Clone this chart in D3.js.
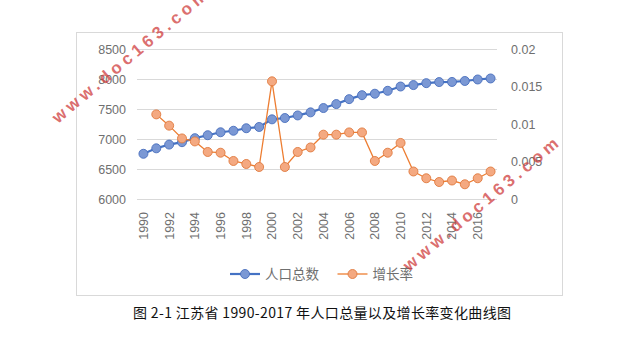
<!DOCTYPE html>
<html><head><meta charset="utf-8">
<script src="https://cdn.jsdelivr.net/npm/d3@7"></script>
<style>html,body{margin:0;padding:0;background:#fff;}svg{display:block;}</style>
</head><body>
<script>
const years = [1990,1991,1992,1993,1994,1995,1996,1997,1998,1999,2000,2001,2002,2003,2004,2005,2006,2007,2008,2009,2010,2011,2012,2013,2014,2015,2016,2017];
const population = [6757,6848,6910,6950,7017,7066,7115,7140,7182,7203,7330,7352,7395,7446,7518,7584,7666,7732,7756,7805,7876,7900,7932,7950,7952,7968,7993,8010];
const growthRate = [null,0.0113,0.0098,0.0081,0.0077,0.0063,0.0062,0.0051,0.0047,0.0043,0.0157,0.0043,0.0063,0.0069,0.0086,0.0086,0.0089,0.0089,0.0051,0.0062,0.0075,0.0037,0.0028,0.0023,0.0025,0.0020,0.0028,0.0037];
const leftTicks = [6000,6500,7000,7500,8000,8500];
const rightTicks = [0,0.005,0.01,0.015,0.02];
const xTickYears = [1990,1992,1994,1996,1998,2000,2002,2004,2006,2008,2010,2012,2014,2016];
const seriesNames = ["人口总数","增长率"];
const caption = "图 2-1 江苏省 1990-2017 年人口总量以及增长率变化曲线图";
const watermark = "www.doc163.com";

const W = 631, H = 342;
const svg = d3.select("body").append("svg").attr("width", W).attr("height", H);
const font = "'Liberation Sans', Arial, sans-serif";
const cjk = "'Noto Sans CJK SC', sans-serif";

// chart border
svg.append("rect").attr("x", 76.5).attr("y", 32.5).attr("width", 486).attr("height", 263)
  .attr("fill", "none").attr("stroke", "#d9d9d9").attr("stroke-width", 1);

const x = d3.scaleBand().domain(years).range([137, 497]);
const yL = d3.scaleLinear().domain([6000, 8500]).range([199.3, 49]);
const yR = d3.scaleLinear().domain([0, 0.02]).range([199.3, 49]);
const cx = d => x(d) + x.bandwidth() / 2;

// gridlines
const grid = svg.append("g");
grid.selectAll("line").data(leftTicks).join("line")
  .attr("x1", 137).attr("x2", 497)
  .attr("y1", d => Math.round(yL(d)) + 0.5).attr("y2", d => Math.round(yL(d)) + 0.5)
  .attr("stroke", "#d9d9d9").attr("stroke-width", 1);

// left axis
const axL = d3.axisLeft(yL).tickValues(leftTicks).tickSize(0).tickPadding(0).tickFormat(d3.format("d"));
const gL = svg.append("g").attr("transform", "translate(126,0)").call(axL);
gL.select(".domain").remove();
gL.selectAll("text").attr("font-family", font).attr("font-size", 12.5).attr("fill", "#6f6f6f");

// right axis
const axR = d3.axisRight(yR).tickValues(rightTicks).tickSize(0).tickPadding(0).tickFormat(d => d === 0 ? "0" : String(+d.toFixed(3)));
const gR = svg.append("g").attr("transform", "translate(511,0)").call(axR);
gR.select(".domain").remove();
gR.selectAll("text").attr("font-family", font).attr("font-size", 12.5).attr("fill", "#6f6f6f");

// x axis labels (rotated)
const axX = d3.axisBottom(x).tickValues(xTickYears).tickSize(0).tickPadding(0);
const gX = svg.append("g").attr("transform", "translate(0,212)").call(axX);
gX.select(".domain").remove();
gX.selectAll("text").attr("font-family", font).attr("font-size", 12.5).attr("fill", "#6f6f6f")
  .attr("transform", "rotate(-90)").attr("text-anchor", "end").attr("dy", "0.35em").attr("x", 0).attr("y", 0);

// population line
const popData = years.map((yr, i) => ({yr, v: population[i]}));
svg.append("path").datum(popData)
  .attr("d", d3.line().x(d => cx(d.yr)).y(d => yL(d.v)))
  .attr("fill", "none").attr("stroke", "#4472c4").attr("stroke-width", 2.2);

// growth line
const grData = years.map((yr, i) => ({yr, v: growthRate[i]})).filter(d => d.v != null);
svg.append("path").datum(grData)
  .attr("d", d3.line().x(d => cx(d.yr)).y(d => yR(d.v)))
  .attr("fill", "none").attr("stroke", "#ed7d31").attr("stroke-width", 1.3);

svg.append("g").selectAll("circle").data(popData).join("circle")
  .attr("cx", d => cx(d.yr)).attr("cy", d => yL(d.v)).attr("r", 4.5)
  .attr("fill", "#7b98d4").attr("stroke", "#4a6fbd").attr("stroke-width", 0.9);

svg.append("g").selectAll("circle").data(grData).join("circle")
  .attr("cx", d => cx(d.yr)).attr("cy", d => yR(d.v)).attr("r", 4.5)
  .attr("fill", "#f4a981").attr("stroke", "#e07b3f").attr("stroke-width", 0.9);

// legend
const legend = [
  {name: seriesNames[0], x: 230, line: "#4472c4", fill: "#7b98d4", stroke: "#4a6fbd", w: 2.2},
  {name: seriesNames[1], x: 337.5, line: "#ed7d31", fill: "#f4a981", stroke: "#e07b3f", w: 1.3}
];
const lg = svg.append("g").selectAll("g").data(legend).join("g").attr("transform", d => `translate(${d.x},274)`);
lg.append("line").attr("x1", 0).attr("x2", 30).attr("stroke", d => d.line).attr("stroke-width", d => d.w);
lg.append("circle").attr("cx", 15).attr("r", 4.5).attr("fill", d => d.fill).attr("stroke", d => d.stroke).attr("stroke-width", 0.9);
lg.append("text").attr("x", 35).attr("dy", "0.36em").text(d => d.name)
  .attr("font-family", cjk).attr("font-size", 13.5).attr("fill", "#6f6f6f");

// caption
svg.append("text").attr("x", 133).attr("y", 318)
  .attr("font-family", "'Noto Sans CJK SC', 'DejaVu Sans', sans-serif").attr("font-size", 14).attr("fill", "#111")
  .attr("textLength", 378).attr("lengthAdjust", "spacing")
  .text(caption);

// watermarks
const wm = [{x: 58, y: 124}, {x: 409, y: 272}];
svg.append("g").selectAll("text").data(wm).join("text")
  .attr("transform", d => `translate(${d.x},${d.y}) rotate(-40)`)
  .attr("font-family", font).attr("font-size", 17).attr("font-weight", "bold")
  .attr("letter-spacing", 4.2).attr("fill", "#d04040").attr("fill-opacity", 0.75)
  .text(watermark);
</script>
</body></html>
